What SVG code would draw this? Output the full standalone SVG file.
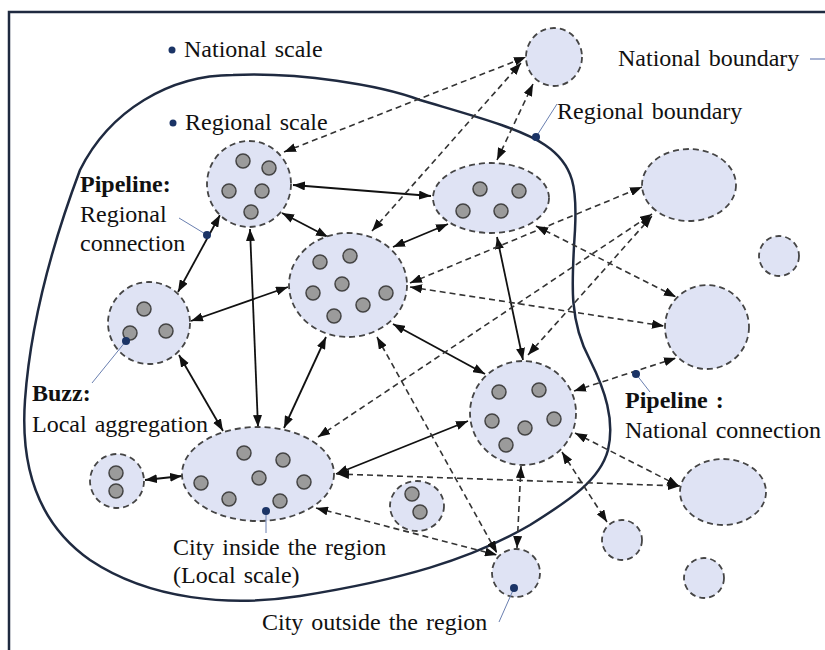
<svg xmlns="http://www.w3.org/2000/svg" width="825" height="650" viewBox="0 0 825 650">
<defs>
<style>
.bnd{fill:none;stroke:#1f2a40;stroke-width:2.5}
.node{fill:#dfe3f4;stroke:#454545;stroke-width:1.8;stroke-dasharray:6 4}
.dot{fill:#9b9b9b;stroke:#444;stroke-width:1.5}
.solid{fill:none;stroke:#111;stroke-width:1.8;marker-start:url(#ah);marker-end:url(#ah)}
.dash{fill:none;stroke:#333;stroke-width:1.6;stroke-dasharray:6 4;marker-start:url(#ah);marker-end:url(#ah)}
.lead{stroke:#6a7fb0;stroke-width:1;fill:none}
.bd{fill:#1b3466}
text{font-family:"Liberation Serif","Times New Roman",serif;font-size:24px;fill:#111;word-spacing:2px}
.b{font-weight:bold}
</style>
<marker id="ah" viewBox="0 0 12 9" refX="12" refY="4.5" markerWidth="12" markerHeight="9" markerUnits="userSpaceOnUse" orient="auto-start-reverse">
<path d="M0,0 L12,4.5 L0,9 z" fill="#111"/>
</marker>
</defs>
<rect width="825" height="650" fill="#fff"/>
<path class="bnd" d="M9,660 L9,12 L830,12"/>
<path class="bnd" d="M233,75 C300,72 380,85 420,100 C470,115 520,128 545,145 C575,165 577,190 575,230 C572,280 568,320 590,360 C605,390 615,420 608,450 C600,480 570,500 530,525 C470,560 400,580 300,596 C230,607 150,600 90,560 C40,525 20,470 25,400 C30,330 50,250 80,170 C110,110 170,75 233,75 Z"/>

<g id="connectors">
<line class="solid" x1="293" y1="185" x2="431" y2="196"/>
<line class="solid" x1="282" y1="213" x2="328" y2="237"/>
<line class="solid" x1="220" y1="215" x2="178" y2="292"/>
<line class="solid" x1="250" y1="229" x2="258" y2="427"/>
<line class="solid" x1="191" y1="321" x2="288" y2="287"/>
<line class="solid" x1="179" y1="355" x2="223" y2="431"/>
<line class="solid" x1="326" y1="337" x2="284" y2="428"/>
<line class="solid" x1="393" y1="247" x2="448" y2="224"/>
<line class="solid" x1="393" y1="324" x2="485" y2="374"/>
<line class="solid" x1="497" y1="237" x2="523" y2="360"/>
<line class="solid" x1="336" y1="474" x2="468" y2="421"/>
<line class="solid" x1="145" y1="480" x2="182" y2="476"/>

<line class="dash" x1="284" y1="152" x2="526" y2="57"/>
<line class="dash" x1="372" y1="231" x2="521" y2="63"/>
<line class="dash" x1="497" y1="160" x2="533" y2="84"/>
<line class="dash" x1="410" y1="283" x2="642" y2="187"/>
<line class="dash" x1="410" y1="287" x2="664" y2="326"/>
<line class="dash" x1="536" y1="226" x2="676" y2="297"/>
<line class="dash" x1="318" y1="437" x2="652" y2="214"/>
<line class="dash" x1="528" y1="355" x2="652" y2="216"/>
<line class="dash" x1="337" y1="474" x2="680" y2="486"/>
<line class="dash" x1="316" y1="508" x2="497" y2="555"/>
<line class="dash" x1="377" y1="337" x2="497" y2="553"/>
<line class="dash" x1="521" y1="466" x2="517" y2="548"/>
<line class="dash" x1="562" y1="452" x2="607" y2="522"/>
<line class="dash" x1="574" y1="391" x2="676" y2="358"/>
<line class="dash" x1="575" y1="433" x2="679" y2="486"/>
</g>

<g id="nodeA">
<ellipse class="node" cx="249" cy="184" rx="42" ry="43"/>
<circle class="dot" cx="243" cy="161" r="7"/><circle class="dot" cx="269" cy="168" r="7"/><circle class="dot" cx="229" cy="191" r="7"/><circle class="dot" cx="262" cy="191" r="7"/><circle class="dot" cx="251" cy="212" r="7"/>
</g>
<g id="nodeB">
<ellipse class="node" cx="491" cy="198" rx="58" ry="35"/>
<circle class="dot" cx="480" cy="189" r="7"/><circle class="dot" cx="519" cy="191" r="7"/><circle class="dot" cx="463" cy="211" r="7"/><circle class="dot" cx="501" cy="211" r="7"/>
</g>
<g id="nodeC">
<ellipse class="node" cx="348" cy="285" rx="59" ry="52"/>
<circle class="dot" cx="320" cy="262" r="7"/><circle class="dot" cx="350" cy="256" r="7"/><circle class="dot" cx="342" cy="284" r="7"/><circle class="dot" cx="313" cy="293" r="7"/><circle class="dot" cx="386" cy="293" r="7"/><circle class="dot" cx="363" cy="305" r="7"/><circle class="dot" cx="334" cy="316" r="7"/>
</g>
<g id="nodeD">
<ellipse class="node" cx="149" cy="323" rx="41" ry="41"/>
<circle class="dot" cx="144" cy="309" r="7"/><circle class="dot" cx="130" cy="333" r="7"/><circle class="dot" cx="166" cy="331" r="7"/>
</g>
<g id="nodeE">
<ellipse class="node" cx="258" cy="474" rx="76" ry="47"/>
<circle class="dot" cx="244" cy="453" r="7"/><circle class="dot" cx="283" cy="460" r="7"/><circle class="dot" cx="259" cy="478" r="7"/><circle class="dot" cx="201" cy="483" r="7"/><circle class="dot" cx="304" cy="482" r="7"/><circle class="dot" cx="229" cy="499" r="7"/><circle class="dot" cx="280" cy="501" r="7"/>
</g>
<g id="nodeF">
<ellipse class="node" cx="117" cy="481" rx="27" ry="27"/>
<circle class="dot" cx="116" cy="473" r="7"/><circle class="dot" cx="116" cy="491" r="7"/>
</g>
<g id="nodeG">
<ellipse class="node" cx="523" cy="413" rx="53" ry="52"/>
<circle class="dot" cx="499" cy="392" r="7"/><circle class="dot" cx="539" cy="390" r="7"/><circle class="dot" cx="492" cy="421" r="7"/><circle class="dot" cx="525" cy="428" r="7"/><circle class="dot" cx="554" cy="419" r="7"/><circle class="dot" cx="506" cy="445" r="7"/>
</g>
<g id="nodeH">
<ellipse class="node" cx="417" cy="506" rx="27" ry="25"/>
<circle class="dot" cx="412" cy="494" r="7"/><circle class="dot" cx="420" cy="512" r="7"/>
</g>
<g id="nodeN1"><ellipse class="node" cx="554" cy="57" rx="28" ry="29"/></g>
<g id="nodeN2"><ellipse class="node" cx="689" cy="185" rx="47" ry="36"/></g>
<g id="nodeN3"><ellipse class="node" cx="779" cy="256" rx="20" ry="20"/></g>
<g id="nodeN4"><ellipse class="node" cx="707" cy="327" rx="42" ry="42"/></g>
<g id="nodeN5"><ellipse class="node" cx="723" cy="492" rx="43" ry="33"/></g>
<g id="nodeN6"><ellipse class="node" cx="622" cy="540" rx="20" ry="20"/></g>
<g id="nodeN7"><ellipse class="node" cx="704" cy="578" rx="20" ry="20"/></g>
<g id="nodeN8"><ellipse class="node" cx="516" cy="573" rx="24" ry="24"/></g>

<g id="labels">
<circle class="bd" cx="172" cy="50" r="3.5"/>
<text x="184" y="57">National scale</text>
<circle class="bd" cx="173" cy="123" r="3.5"/>
<text x="185" y="130">Regional scale</text>
<text x="618" y="66">National boundary</text>
<line x1="810" y1="59" x2="825" y2="59" stroke="#8d9bc4" stroke-width="1.5"/>
<line class="lead" x1="536" y1="137" x2="557" y2="104"/>
<circle class="bd" cx="536" cy="137" r="4"/>
<text x="557" y="119">Regional boundary</text>
<text class="b" x="80" y="192">Pipeline:</text>
<text x="80" y="222">Regional</text>
<text x="80" y="251">connection</text>
<line class="lead" x1="179" y1="218" x2="207" y2="235"/>
<circle class="bd" cx="207" cy="235" r="4"/>
<text class="b" x="32" y="401">Buzz:</text>
<text x="32" y="432">Local aggregation</text>
<line class="lead" x1="126" y1="341" x2="92" y2="383"/>
<circle class="bd" cx="126" cy="341" r="4"/>
<line class="lead" x1="266" y1="511" x2="266" y2="533"/>
<circle class="bd" cx="266" cy="511" r="4"/>
<text x="173" y="555">City inside the region</text>
<text x="173" y="583">(Local scale)</text>
<line class="lead" x1="514" y1="588" x2="499" y2="622"/>
<circle class="bd" cx="514" cy="588" r="4"/>
<text x="262" y="630">City outside the region</text>
<line class="lead" x1="636" y1="374" x2="650" y2="392"/>
<circle class="bd" cx="636" cy="374" r="4"/>
<text class="b" x="625" y="408">Pipeline :</text>
<text x="625" y="438">National connection</text>
</g>
</svg>
